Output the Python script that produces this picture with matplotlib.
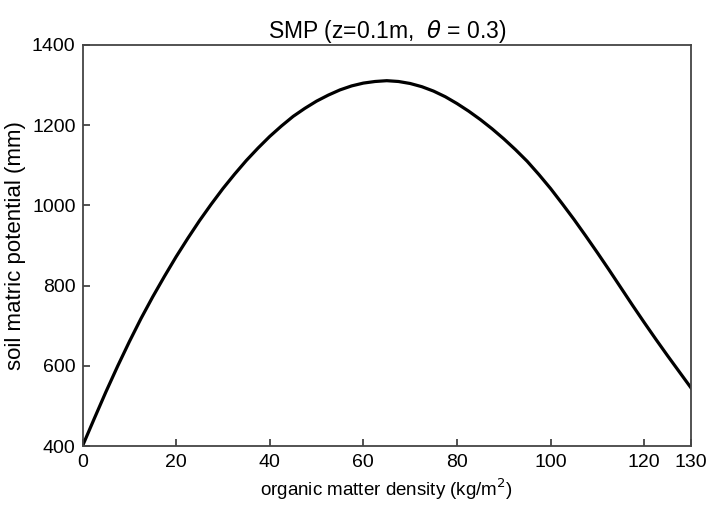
import matplotlib
matplotlib.use('Agg')
import matplotlib.pyplot as plt

plt.rcParams['font.family'] = ['Liberation Sans', 'DejaVu Sans']
plt.rcParams['mathtext.fontset'] = 'dejavusans'

# organic matter density (kg/m2) and soil matric potential (mm)
density = [0, 2.5, 5, 7.5, 10, 12.5, 15, 17.5, 20, 22.5, 25, 27.5, 30, 32.5, 35,
           37.5, 40, 42.5, 45, 47.5, 50, 52.5, 55, 57.5, 60, 62.5, 65, 67.5, 70,
           72.5, 75, 77.5, 80, 82.5, 85, 87.5, 90, 92.5, 95, 97.5, 100, 102.5, 105,
           107.5, 110, 112.5, 115, 117.5, 120, 122.5, 125, 127.5, 130]
smp = [400, 468, 535, 599, 660, 718, 772, 823, 872, 918, 962, 1003, 1042, 1078, 1112,
       1143, 1172, 1198, 1222, 1242, 1260, 1275, 1288, 1298, 1305, 1309, 1311, 1309, 1304,
       1296, 1285, 1271, 1254, 1235, 1214, 1191, 1166, 1139, 1110, 1077, 1042, 1004, 965,
       924, 882, 839, 795, 751, 708, 666, 625, 585, 545]

x_ticks = [0, 20, 40, 60, 80, 100, 120, 130]
y_ticks = [400, 600, 800, 1000, 1200, 1400]

fig = plt.figure(figsize=(7.07, 5.05), dpi=100)
ax = fig.add_axes([0.1167, 0.1168, 0.8607, 0.7941])

ax.plot(density, smp, color='black', linewidth=2.3, solid_joinstyle='round')

ax.set_xlim(0, 130)
ax.set_ylim(400, 1400)
ax.set_xticks(x_ticks)
ax.set_yticks(y_ticks)
ax.tick_params(direction='in', length=5, width=1.2, colors='#333333',
               labelcolor='black', labelsize=14, top=False, right=False)
ax.tick_params(axis='x', pad=6)
ax.tick_params(axis='y', pad=5)

for side in ax.spines.values():
    side.set_color('#444444')
    side.set_linewidth(1.3)

ax.set_title(r'SMP (z=0.1m,  $\theta$ = 0.3)', fontsize=16.5, pad=5)
ax.set_xlabel(r'organic matter density (kg/m$^2$)', fontsize=13.5, labelpad=4)
ax.set_ylabel('soil matric potential (mm)', fontsize=16, labelpad=4)

fig.savefig('out.png', dpi=100)
